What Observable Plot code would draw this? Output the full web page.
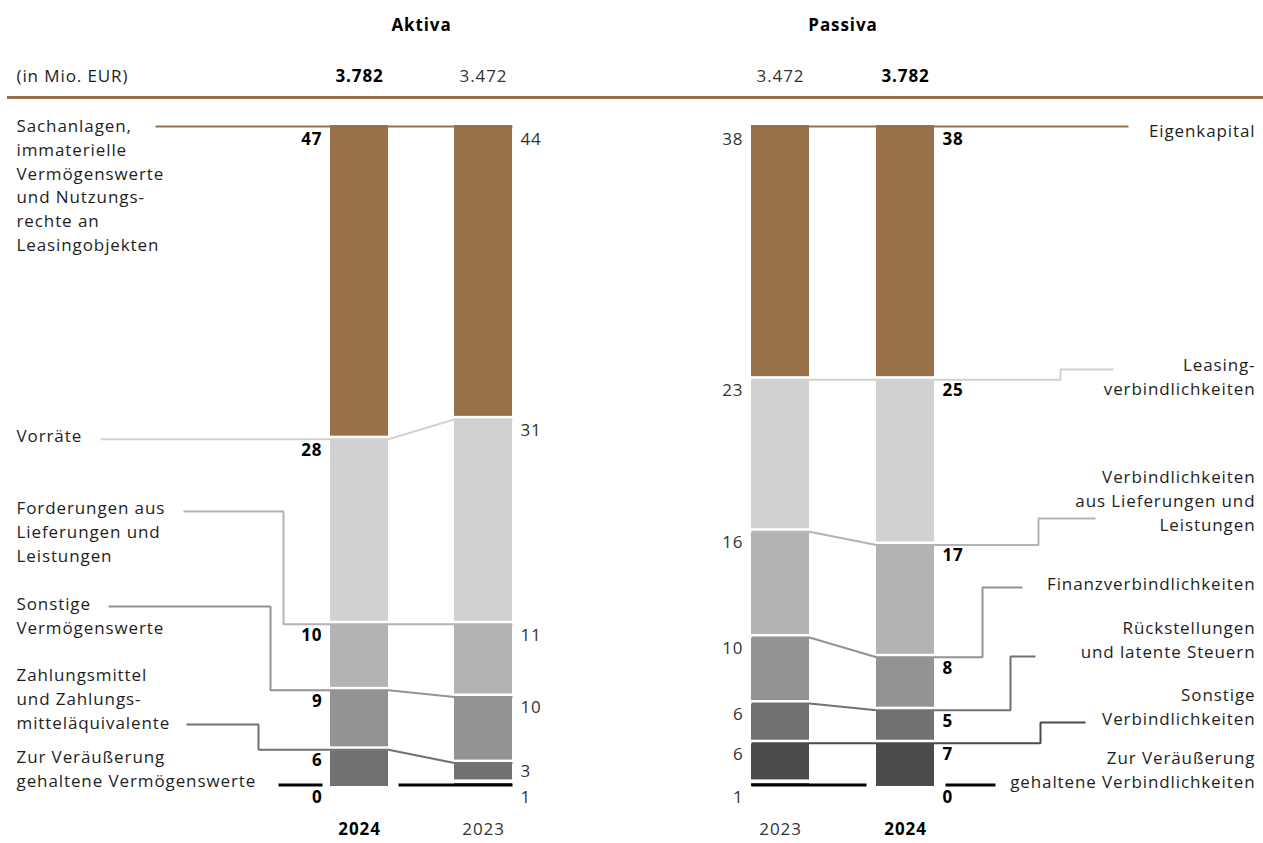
<!DOCTYPE html>
<html lang="de">
<head>
<meta charset="utf-8">
<script src="https://cdn.jsdelivr.net/npm/d3@7"></script>
<script src="https://cdn.jsdelivr.net/npm/@observablehq/plot@0.6"></script>
<style>
  html, body { margin: 0; padding: 0; background: #fff; }
  #chart svg { display: block; }
  #chart svg text { letter-spacing: 0.9px; }
</style>
</head>
<body>
<div id="chart"></div>
<script>
// Bilanzstruktur in Prozent der Bilanzsumme
const aktivaCategories = [
  "Sachanlagen,\nimmaterielle\nVermögenswerte\nund Nutzungs-\nrechte an\nLeasingobjekten",
  "Vorräte",
  "Forderungen aus\nLieferungen und\nLeistungen",
  "Sonstige\nVermögenswerte",
  "Zahlungsmittel\nund Zahlungs-\nmitteläquivalente",
  "Zur Veräußerung\ngehaltene Vermögenswerte"
];
const aktiva2024 = [47, 28, 10, 9, 6, 0];
const aktiva2023 = [44, 31, 11, 10, 3, 1];

const passivaCategories = [
  "Eigenkapital",
  "Leasing-\nverbindlichkeiten",
  "Verbindlichkeiten\naus Lieferungen und\nLeistungen",
  "Finanzverbindlichkeiten",
  "Rückstellungen\nund latente Steuern",
  "Sonstige\nVerbindlichkeiten",
  "Zur Veräußerung\ngehaltene Verbindlichkeiten"
];
const passiva2023 = [38, 23, 16, 10, 6, 6, 1];
const passiva2024 = [38, 25, 17, 8, 5, 7, 0];

// Bilanzsumme in Mio. EUR
const years = ["2024", "2023"];
const totals = [3782, 3472];

// Farben der Segmente (von oben nach unten)
const brown = "#98714a";
const aktivaColors = [brown, "#d1d1d1", "#b3b3b3", "#939393", "#717171", "#000000"];
const passivaColors = [brown, "#d1d1d1", "#b3b3b3", "#939393", "#717171", "#4b4b4b", "#000000"];

// Layout
const W = 1263, H = 843;
const plotTop = 125, plotBottom = 786;
const barW = 58;
const font = "Open Sans";
const fontSize = 17;
const lineStep = 23.8;
const textColor = "#1e1e1e";
const fmt = d3.formatLocale({decimal: ",", thousands: ".", grouping: [3], currency: ["", " €"]}).format(",d");

const yScale = Plot.scale({y: {domain: [0, 100], range: [plotTop, plotBottom]}});
const atPx = (px) => yScale.invert(px);
const toPx = (v) => yScale.apply(v);

// Zwei Seiten: Balkenpaare (linker Balken, rechter Balken), Beschriftung der Kategorien
const sides = [
  {
    name: "Aktiva", categories: aktivaCategories, colors: aktivaColors,
    left: {year: "2024", values: aktiva2024, x: 330, current: true},
    right: {year: "2023", values: aktiva2023, x: 454, current: false},
    labelX: 16, labelAnchor: "start",
    // Beschriftung: Mitte der ersten Zeile, Start der Führungslinie, Höhe der Führungslinie, Knick
    labels: [
      {cy: 126, start: 155},
      {cy: 436, start: 100},
      {cy: 508, start: 183, lineY: 508, elbow: 283},
      {cy: 604, start: 108, lineY: 603, elbow: 270},
      {cy: 675, start: 186, lineY: 721, elbow: 258},
      {cy: 757, zero: [[278, 322], [398, 512]]}
    ]
  },
  {
    name: "Passiva", categories: passivaCategories, colors: passivaColors,
    left: {year: "2023", values: passiva2023, x: 751, current: false},
    right: {year: "2024", values: passiva2024, x: 876, current: true},
    labelX: 1255, labelAnchor: "end",
    labels: [
      {cy: 131, start: 1128},
      {cy: 365, start: 1113, lineY: 366, elbow: 1060},
      {cy: 477, start: 1095, lineY: 515, elbow: 1038},
      {cy: 584, start: 1022, lineY: 584, elbow: 982},
      {cy: 628, start: 1035, lineY: 653, elbow: 1010},
      {cy: 695, start: 1085, lineY: 719, elbow: 1040},
      {cy: 758, zero: [[945, 995], [751, 866]]}
    ]
  }
];

function stack(values) {
  let c = 0;
  return values.map((v) => { const s = {top: c, bottom: c + v, value: v}; c += v; return s; });
}

const segments = [];
const valueLabels = [];
const connectors = [];
const zeroLines = [];
const categoryLines = [];
const headers = [];
const yearLabels = [];

for (const side of sides) {
  const bars = [side.left, side.right];
  const stacks = new Map(bars.map((b) => [b, stack(b.values)]));
  const current = bars.find((b) => b.current);
  const prior = bars.find((b) => !b.current);
  const currentIsLeft = current === side.left;

  for (const b of bars) {
    const isLeft = b === side.left;
    const st = stacks.get(b);
    st.forEach((s, i) => {
      if (s.value > 0) segments.push({x1: b.x, x2: b.x + barW, y1: s.top, y2: s.bottom, fill: side.colors[i], first: i === 0});
    });
    // Wertbeschriftung: unter der Segmentoberkante, die letzte Position unter dem Balken;
    // von unten nach oben so verschoben, dass sich keine Beschriftungen überdecken
    const n = st.length;
    const py = st.map((s, i) => i === n - 1 ? toPx(s.bottom) + 11 : toPx(s.top) + 14);
    for (let i = n - 2; i >= 0; --i) py[i] = Math.min(py[i], py[i + 1] - 26);
    st.forEach((s, i) => {
      valueLabels.push({
        x: isLeft ? b.x - 8 : b.x + barW + 8,
        y: atPx(py[i]),
        text: String(s.value),
        anchor: isLeft ? "end" : "start",
        bold: b.current
      });
    });
    const ti = years.indexOf(b.year);
    headers.push({x: b.x + barW / 2, y: atPx(76), text: fmt(totals[ti]), bold: b.current});
    yearLabels.push({x: b.x + barW / 2, y: atPx(829), text: b.year, bold: b.current});
  }

  const sc = stacks.get(current), sp = stacks.get(prior);
  const curOuter = currentIsLeft ? current.x : current.x + barW;
  const curInner = currentIsLeft ? current.x + barW : current.x;
  const priInner = currentIsLeft ? prior.x : prior.x + barW;
  const priOuter = currentIsLeft ? prior.x + barW : prior.x;

  side.labels.forEach((lab, i) => {
    side.categories[i].split("\n").forEach((line, k) => {
      categoryLines.push({x: side.labelX, y: atPx(lab.cy + k * lineStep), text: line, anchor: side.labelAnchor});
    });
    const z = side.name + i;
    if (lab.zero) {
      lab.zero.forEach(([a, b], k) => {
        zeroLines.push({x: a, y: 100, z: z + "-" + k});
        zeroLines.push({x: b, y: 100, z: z + "-" + k});
      });
      return;
    }
    const color = side.colors[i];
    const yc = sc[i].top, yp = sp[i].top;
    const pts = [];
    if (lab.elbow !== undefined) {
      pts.push([lab.start, atPx(lab.lineY)], [lab.elbow, atPx(lab.lineY)], [lab.elbow, yc]);
    } else {
      pts.push([lab.start, yc]);
    }
    pts.push([curOuter, yc], [curInner, yc], [priInner, yp], [priOuter, yp]);
    for (const [x, y] of pts) connectors.push({x, y, z, color, first: i === 0});
  });

  headers.push({x: (side.left.x + side.right.x + barW) / 2, y: atPx(25), text: side.name, bold: true});
}

const textBase = {fontFamily: font, fontSize, fill: textColor};
const lineBase = {x: "x", y: "y", z: "z", strokeLinejoin: "miter", strokeLinecap: "butt"};

// Textmarken je Ausrichtung und Schriftschnitt
function textMarks(data, options = {}) {
  const marks = [];
  for (const anchor of ["start", "middle", "end"]) {
    for (const bold of [true, false]) {
      const subset = data.filter((d) => (d.anchor || "middle") === anchor && !!d.bold === bold);
      if (!subset.length) continue;
      marks.push(Plot.text(subset, {
        x: "x", y: "y", text: "text", textAnchor: anchor,
        ...textBase,
        fill: bold ? "#000" : (options.plainFill || textColor),
        fontWeight: bold ? "bold" : "normal"
      }));
    }
  }
  return marks;
}

const chart = Plot.plot({
  width: W,
  height: H,
  margin: 0,
  x: {type: "identity"},
  y: {domain: [0, 100], range: [plotTop, plotBottom], axis: null},
  color: {type: "identity"},
  style: {fontFamily: font, background: "#fff"},
  marks: [
    // Trennlinie unter der Kopfzeile
    Plot.ruleY([atPx(97)], {x1: 7, x2: W, stroke: brown, strokeWidth: 3}),
    // Balkensegmente
    Plot.rect(segments.filter((d) => d.first), {x1: "x1", x2: "x2", y1: "y1", y2: "y2", fill: "fill"}),
    Plot.rect(segments.filter((d) => !d.first), {x1: "x1", x2: "x2", y1: "y1", y2: "y2", fill: "fill", insetTop: 4}),
    // Verbindungslinien zwischen den Jahren und zu den Beschriftungen
    Plot.line(connectors.filter((d) => d.first), {...lineBase, stroke: "color", strokeWidth: 2, dy: 1}),
    Plot.line(connectors.filter((d) => !d.first), {...lineBase, stroke: "color", strokeWidth: 2, dy: 3}),
    Plot.line(zeroLines, {...lineBase, stroke: "#000", strokeWidth: 3, dy: -1.5}),
    // Werte
    ...textMarks(valueLabels, {plainFill: "#333"}),
    // Kategorien
    ...textMarks(categoryLines),
    // Kopfzeile und Jahre
    Plot.text(["(in Mio. EUR)"], {x: 16, y: atPx(76), text: (d) => d, textAnchor: "start", ...textBase}),
    ...textMarks(headers, {plainFill: "#333"}),
    ...textMarks(yearLabels, {plainFill: "#333"})
  ]
});

document.getElementById("chart").appendChild(chart);
</script>
</body>
</html>
